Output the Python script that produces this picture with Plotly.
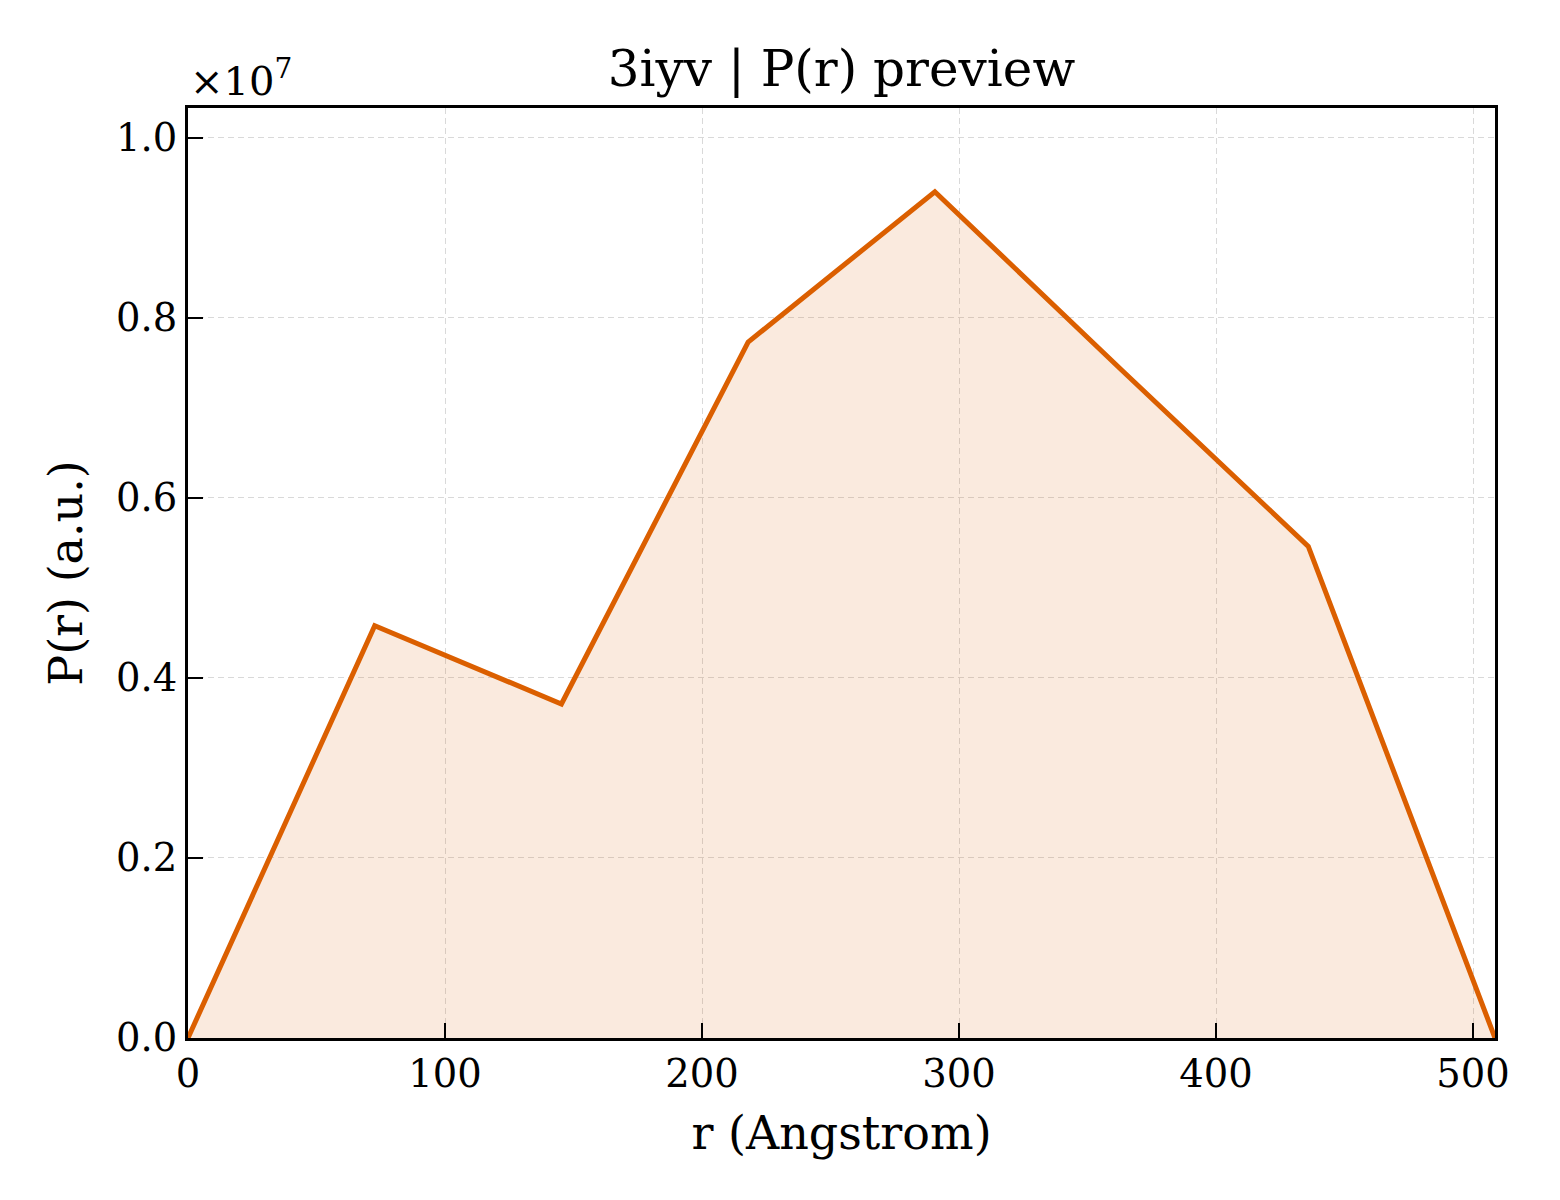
import plotly.graph_objects as go

# P(r) distribution, values in units of 1e7
r_angstrom = [0.0, 72.65, 145.3, 217.95, 290.6, 363.25, 435.9, 508.55]
p_r = [0.0, 0.458, 0.371, 0.773, 0.940, 0.742, 0.546, 0.0]
x_ticks = [0, 100, 200, 300, 400, 500]
y_ticks = [0.0, 0.2, 0.4, 0.6, 0.8, 1.0]

font_family = "DejaVu Serif"
line_color = "#DB5F00"

fig = go.Figure()
fig.add_trace(go.Scatter(
    x=r_angstrom, y=p_r, mode="lines",
    line=dict(color=line_color, width=5),
    fill="tozeroy", fillcolor="rgba(219,95,0,0.13)",
    showlegend=False,
))

axis_common = dict(
    showline=True, linecolor="black", linewidth=3, mirror=True,
    ticks="inside", ticklen=15, tickwidth=2, tickcolor="black",
    showgrid=True, gridcolor="#d9d9d9", gridwidth=1.2, griddash="6px,4px",
    zeroline=False,
    tickfont=dict(family=font_family, size=38.5, color="black"),
    title_font=dict(family=font_family, size=46, color="black"),
)

fig.update_xaxes(
    range=[0, r_angstrom[-1]], tickvals=x_ticks,
    title_text="r (Angstrom)", title_standoff=22, **axis_common,
)
fig.update_yaxes(
    range=[0, 1.033], tickvals=y_ticks,
    ticktext=[f"{v:.1f}" for v in y_ticks],
    title_text="P(r) (a.u.)", title_standoff=19, **axis_common,
)

fig.add_annotation(
    text="×10<sup>7</sup>", xref="paper", yref="paper", x=0, y=1.0,
    xanchor="left", yanchor="bottom", showarrow=False, yshift=2,
    font=dict(family=font_family, size=40, color="black"),
)

fig.update_layout(
    width=1560, height=1200,
    margin=dict(l=180, r=73, t=100, b=170),
    plot_bgcolor="white", paper_bgcolor="white",
    title=dict(text="3iyv | P(r) preview", x=0.5, xref="paper", y=0.95,
               yanchor="middle",
               font=dict(family=font_family, size=50, color="black")),
)

fig.write_html("out.html")
